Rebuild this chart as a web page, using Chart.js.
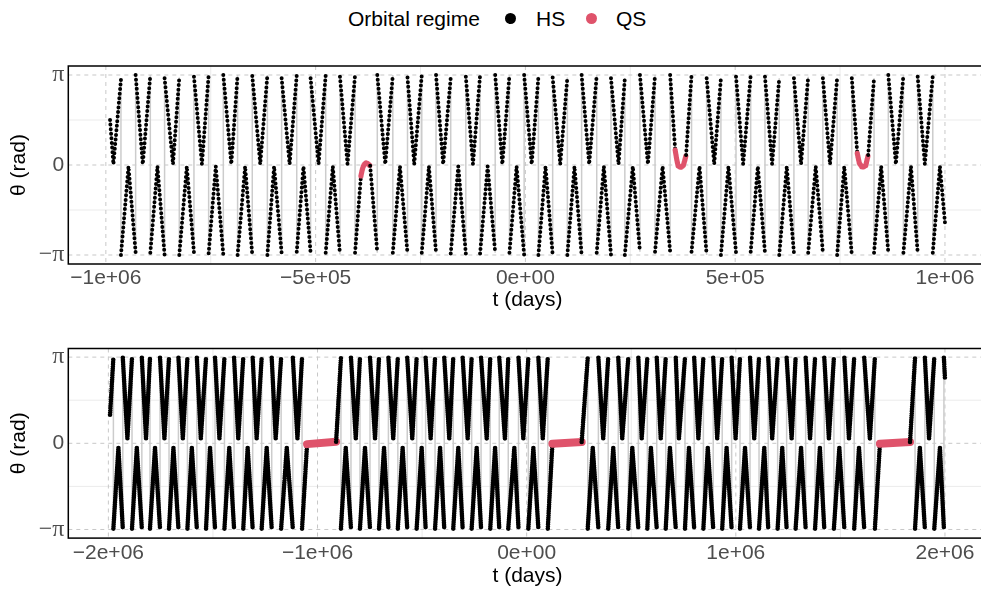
<!DOCTYPE html>
<html>
<head>
<meta charset="utf-8">
<script src="https://cdn.jsdelivr.net/npm/chart.js@4.4.1/dist/chart.umd.min.js"></script>
<style>
  body { margin: 0; width: 981px; height: 589px; overflow: hidden; background: #fff; position: relative;
         font-family: "Liberation Sans", Arial, sans-serif; }
  .lg { position: absolute; top: 6px; font-size: 21px; line-height: 26px; color: #000; white-space: nowrap; }
  .dot { position: absolute; top: 12.5px; width: 11px; height: 11px; border-radius: 50%; }
  .panel { position: absolute; left: 0; }
</style>
</head>
<body>
<div class="lg" style="left:348px">Orbital regime</div>
<div class="dot" style="left:504.5px;background:#000"></div>
<div class="lg" style="left:536px">HS</div>
<div class="dot" style="left:585.5px;background:#DF536B"></div>
<div class="lg" style="left:616px">QS</div>
<canvas id="orbitA" class="panel" width="990" height="280" style="top:40px"></canvas>
<canvas id="orbitB" class="panel" width="990" height="280" style="top:320px"></canvas>
<script>
const PI = Math.PI;

// ---- upper panel: turning points (t in days, theta in rad) ----
const turnT1 = [-990000, -982000, -946000, -912000, -877000, -840000, -807000, -771000, -738000, -701000,
  -668000, -632000, -599000, -562000, -529000, -493000, -459000, -424000,
  -392000, -389000, -386000, -382000, -378000, -374000, -370000,
  -334000, -299000, -265000, -230000, -196000, -160000, -125000, -90000, -55000, -21000,
  15000, 48000, 83000, 117000, 152000, 187000, 222000, 256000, 292000, 327000,
  357000, 361000, 364000, 370000, 376000, 380000, 383000,
  415000, 450000, 484000, 519000, 554000, 588000, 623000, 657000, 692000, 726000, 760000,
  791000, 796000, 803000, 811000, 817000,
  848000, 883000, 919000, 952000, 988000, 1000000];
const turnTh1 = [1.57, 0.03, -0.05, 0.03, -0.05, 0.03, -0.05, 0.03, -0.05, 0.03,
  -0.05, 0.03, -0.05, 0.03, -0.05, 0.03, -0.05, 0.03,
  -0.38, -0.17, -0.03, 0.06, 0.08, 0.03, -0.03,
  0.03, -0.05, 0.03, -0.05, 0.03, -0.05, 0.03, -0.05, 0.03, -0.05,
  0.03, -0.05, 0.03, -0.05, 0.03, -0.05, 0.03, -0.05, 0.03, -0.05,
  0.52, 0.17, -0.03, -0.08, -0.03, 0.17, 0.35,
  -0.05, 0.03, -0.05, 0.03, -0.05, 0.03, -0.05, 0.03, -0.05, 0.03, -0.05,
  0.41, 0.06, -0.08, -0.03, 0.35,
  -0.05, 0.03, -0.05, 0.03, -0.05, -2.01];

// crossings of +-pi: last/first sample on each side of the wrap
const crossT1 = [-964000, -929000, -894000, -860000, -825000, -790000, -755000, -720000, -686000, -651000,
  -615000, -581000, -545000, -512000, -476000, -442000, -406000, -353000, -316000, -281000,
  -247000, -213000, -178000, -142000, -108000, -72000, -38000, -3000, 31000, 65000,
  100000, 134000, 170000, 204000, 237000, 273000, 309000, 345000, 396000, 432000,
  466000, 502000, 537000, 571000, 605000, 640000, 674000, 709000, 743000, 778000,
  831000, 865000, 901000, 935000, 971000];
const crossHi1 = [2.98, 3.14, 3.14, 3.03, 3.05, 3.08, 3.14, 3.14, 3.14, 3.11,
  3.14, 3.03, 3.14, 3.03, 3.14, 3.08, 3.14, 3.14, 3.14, 3.05,
  3.14, 3.14, 3.05, 3.08, 3.14, 3.14, 3.14, 3.14, 3.08, 3.05,
  3.05, 3.14, 3.14, 3.03, 3.03, 3.14, 3.14, 3.14, 3.14, 3.03,
  3.03, 3.08, 3.14, 3.08, 3.03, 3.03, 3.08, 3.03, 3.03, 3.03,
  3.03, 3.14, 3.14, 3.08, 3.11];
const crossLo1 = [-3.14, -3.06, -3.06, -3.14, -3.14, -3.06, -3.08, -3.14, -3.14, -3.14,
  -3.14, -3.08, -3.03, -3.06, -3.06, -3.12, -3.06, -3.06, -3.06, -3.09,
  -3.06, -3.06, -3.09, -3.09, -3.09, -3.06, -3.06, -3.14, -3.14, -3.14,
  -3.14, -3.14, -3.06, -3.14, -3.14, -3.03, -3.03, -3.03, -3.03, -3.14,
  -3.14, -3.06, -3.03, -3.06, -3.14, -3.06, -3.06, -3.06, -3.14, -3.14,
  -3.06, -3.06, -3.06, -3.06, -3.06];

const qsFrom1 = [-392000, 357000, 791000];
const qsTo1 = [-370000, 383000, 817000];

// ---- lower panel ----
const turnT2 = [-1992000, -1952000, -1909000, -1864000, -1820000, -1777000, -1732000, -1689000, -1644000, -1601000,
  -1558000, -1514000, -1469000, -1422000, -1379000, -1334000, -1291000, -1243000, -1200000, -1147000, -1096000,
  -1050000, -911000,
  -865000, -817000, -773000, -725000, -682000, -638000, -593000, -547000, -502000, -459000,
  -414000, -370000, -327000, -282000, -239000, -191000, -151000, -104000, -59000, -16000, 32000, 77000,
  123000, 263000,
  316000, 366000, 414000, 457000, 505000, 550000, 594000, 641000, 685000, 728000,
  776000, 821000, 866000, 911000, 956000, 999000, 1044000, 1088000, 1136000, 1174000,
  1222000, 1267000, 1312000, 1355000, 1402000, 1445000, 1495000, 1541000, 1589000, 1641000,
  1689000, 1833000,
  1880000, 1924000, 1976000, 2000000];
const turnTh2 = [1.04, -0.16, 0.17, -0.16, 0.17, -0.16, 0.17, -0.16, 0.17, -0.16,
  0.17, -0.16, 0.17, -0.16, 0.17, -0.16, 0.17, -0.16, 0.17, -0.16, 0.17,
  -0.03, 0.06,
  -0.16, 0.17, -0.16, 0.17, -0.16, 0.17, -0.16, 0.17, -0.16, 0.17,
  -0.16, 0.17, -0.16, 0.17, -0.16, 0.17, -0.16, 0.17, -0.16, 0.17, -0.16, 0.17,
  -0.02, 0.05,
  -0.16, 0.17, -0.16, 0.17, -0.16, 0.17, -0.16, 0.17, -0.16, 0.17,
  -0.16, 0.17, -0.16, 0.17, -0.16, 0.17, -0.16, 0.17, -0.16, 0.17,
  -0.16, 0.17, -0.16, 0.17, -0.16, 0.17, -0.16, 0.17, -0.16, 0.17,
  -0.02, 0.05,
  -0.16, 0.17, -0.16, 2.37];
const crossT2 = [-1976000, -1931000, -1887000, -1840000, -1801000, -1753000, -1710000, -1665000, -1622000, -1577000,
  -1533000, -1490000, -1445000, -1399000, -1355000, -1310000, -1267000, -1219000, -1174000, -1118000,
  -1074000, -888000, -840000, -797000, -749000, -706000, -661000, -616000, -571000, -526000,
  -483000, -438000, -394000, -351000, -306000, -263000, -218000, -174000, -131000, -88000,
  -39000, 8000, 56000, 101000, 292000, 343000, 390000, 438000, 486000, 534000,
  577000, 622000, 665000, 713000, 757000, 801000, 845000, 892000, 935000, 980000,
  1020000, 1068000, 1111000, 1155000, 1200000, 1243000, 1286000, 1334000, 1379000, 1423000,
  1469000, 1519000, 1566000, 1614000, 1665000, 1857000, 1904000, 1949000, 1995000];
const edgeHi2 = 3.12;
const edgeLo2 = -3.11;

const qsFrom2 = [-1050000, 123000, 1689000];
const qsTo2 = [-911000, 263000, 1833000];

// ---- ticks ----
const xTicks1 = [-1e6, -5e5, 0, 5e5, 1e6];
const xLabels1 = ['\u22121e+06', '\u22125e+05', '0e+00', '5e+05', '1e+06'];
const xMinor1 = [-7.5e5, -2.5e5, 2.5e5, 7.5e5];
const xTicks2 = [-2e6, -1e6, 0, 1e6, 2e6];
const xLabels2 = ['\u22122e+06', '\u22121e+06', '0e+00', '1e+06', '2e+06'];
const xMinor2 = [-1.5e6, -5e5, 5e5, 1.5e6];
const yTicks = [-PI, 0, PI];
const yLabels = ['\u2212\u03c0', '0', '\u03c0'];
const yMinor = [-PI / 2, PI / 2];

const HS_COLOR = '#000000';
const QS_COLOR = '#DF536B';
const SANS = '"Liberation Sans", Arial, sans-serif';

// merge turning points and wraps into one ordered path
function buildPath(turnT, turnTh, crossT, crossHi, crossLo) {
  const events = [];
  turnT.forEach((t, i) => events.push({ t: t, th: turnTh[i] }));
  crossT.forEach((t, i) => events.push({ t: t, hi: crossHi[i], lo: crossLo[i] }));
  events.sort((a, b) => a.t - b.t);
  const pts = [];
  for (const e of events) {
    if (e.th !== undefined) {
      pts.push({ x: e.t, y: e.th });
      continue;
    }
    const last = pts[pts.length - 1].y;
    if (last > 0) pts.push({ x: e.t, y: e.hi }, { x: e.t, y: e.lo });
    else pts.push({ x: e.t, y: e.lo }, { x: e.t, y: e.hi });
  }
  return pts;
}

function regimeOf(path, ctx, qsFrom, qsTo) {
  const a = path[ctx.p0DataIndex], b = path[ctx.p1DataIndex];
  if (Math.abs(b.y - a.y) > PI) return 'wrap';
  const mid = (a.x + b.x) / 2;
  for (let i = 0; i < qsFrom.length; i++) {
    if (mid >= qsFrom[i] && mid <= qsTo[i]) return 'QS';
  }
  return 'HS';
}

// minor/major grid and the black frame
const panelFrame = {
  id: 'panelFrame',
  beforeDatasetsDraw(chart, args, opts) {
    const { ctx, chartArea: a, scales: { x, y } } = chart;
    const vline = v => {
      const p = x.getPixelForValue(v);
      ctx.beginPath(); ctx.moveTo(p, a.top); ctx.lineTo(p, a.bottom); ctx.stroke();
    };
    const hline = v => {
      const p = y.getPixelForValue(v);
      ctx.beginPath(); ctx.moveTo(a.left, p); ctx.lineTo(a.right, p); ctx.stroke();
    };
    ctx.save();
    ctx.lineWidth = 1;
    ctx.strokeStyle = '#ebebeb';
    opts.xMinor.forEach(vline);
    yMinor.forEach(hline);
    ctx.strokeStyle = '#c8c8c8';
    ctx.setLineDash([4, 4]);
    x.ticks.forEach(t => vline(t.value));
    y.ticks.forEach(t => hline(t.value));
    ctx.restore();
  },
  afterDatasetsDraw(chart) {
    const { ctx, chartArea: a } = chart;
    ctx.save();
    ctx.strokeStyle = '#000';
    ctx.lineWidth = 1.5;
    ctx.strokeRect(a.left, a.top, a.right - a.left, a.bottom - a.top);
    ctx.restore();
  }
};

function orbitChart(id, path, qsFrom, qsTo, o) {
  const pick = (ctx, hs, qs, wrap) => {
    const r = regimeOf(path, ctx, qsFrom, qsTo);
    return r === 'QS' ? qs : (r === 'wrap' ? wrap : hs);
  };
  const config = {
    type: 'line',
    data: {
      datasets: [{
        label: 'regime',
        data: path,
        borderColor: HS_COLOR,
        borderWidth: o.dot,
        borderDash: [0, o.gap],
        borderCapStyle: 'round',
        pointRadius: 0,
        tension: 0,
        order: 1,
        segment: {
          borderColor: ctx => pick(ctx, HS_COLOR, QS_COLOR, 'rgba(0,0,0,0)'),
          borderDash: ctx => pick(ctx, [0, o.gap], o.qsDash, []),
          borderWidth: ctx => pick(ctx, o.dot, o.qsWidth, 1)
        }
      }, {
        label: 'track',
        data: path,
        borderColor: '#cccccc',
        borderWidth: 1.5,
        pointRadius: 0,
        tension: 0,
        order: 2
      }]
    },
    options: {
      responsive: false,
      animation: false,
      events: [],
      layout: { padding: { top: o.padTop, right: 3.3, left: 0, bottom: 0 } },
      plugins: {
        legend: { display: false },
        tooltip: { enabled: false },
        panelFrame: { xMinor: o.xMinor }
      },
      scales: {
        x: {
          type: 'linear',
          min: o.xMin,
          max: o.xMax,
          grid: { display: false, drawTicks: false },
          border: { display: false },
          afterBuildTicks: s => { s.ticks = o.xTicks.map(v => ({ value: v })); },
          afterFit: s => { s.height = o.xHeight; },
          ticks: {
            autoSkip: false, maxRotation: 0, padding: o.tickPad, color: '#4d4d4d',
            font: { family: SANS, size: 21 },
            callback: (v, i) => o.xLabels[i]
          },
          title: {
            display: true, text: 't (days)', color: '#000',
            font: { family: SANS, size: 21 },
            padding: { top: 0, bottom: o.titlePad }
          }
        },
        y: {
          min: -1.1 * PI,
          max: 1.1 * PI,
          grid: { display: false, drawTicks: false },
          border: { display: false },
          afterBuildTicks: s => { s.ticks = yTicks.map(v => ({ value: v })); },
          afterFit: s => { s.width = 68.3; },
          ticks: {
            padding: 4, color: '#4d4d4d',
            font: c => (c.tick && c.tick.value !== 0)
              ? { family: '"Liberation Serif", serif', size: 24 }
              : { family: SANS, size: 21 },
            callback: (v, i) => yLabels[i]
          },
          title: {
            display: true, text: '\u03b8 (rad)', color: '#000',
            font: { family: SANS, size: 21 },
            padding: { top: 6.7, bottom: 0 }
          }
        }
      }
    },
    plugins: [panelFrame]
  };
  let ctx = document.getElementById(id).getContext('2d');
  new Chart(ctx, config);
}

const path1 = buildPath(turnT1, turnTh1, crossT1, crossHi1, crossLo1);
const path2 = buildPath(turnT2, turnTh2, crossT2, crossT2.map(() => edgeHi2), crossT2.map(() => edgeLo2));

orbitChart('orbitA', path1, qsFrom1, qsTo1, {
  xMin: -1089500, xMax: 1099500, xTicks: xTicks1, xLabels: xLabels1, xMinor: xMinor1,
  padTop: 26, xHeight: 56, tickPad: 1.5, titlePad: 7.4,
  dot: 4, gap: 4.6, qsWidth: 5.2, qsDash: [0, 1.6]
});
orbitChart('orbitB', path2, qsFrom2, qsTo2, {
  xMin: -2191600, xMax: 2199600, xTicks: xTicks2, xLabels: xLabels2, xMinor: xMinor2,
  padTop: 28.5, xHeight: 61.9, tickPad: 2.3, titlePad: 11.4,
  dot: 4.6, gap: 2.2, qsWidth: 8, qsDash: []
});
</script>
</body>
</html>
